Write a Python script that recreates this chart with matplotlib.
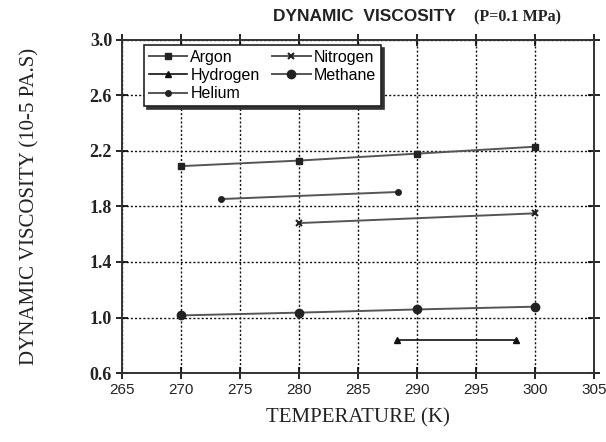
import matplotlib
matplotlib.use("Agg")
import matplotlib.pyplot as plt

# Dynamic viscosity of gases at P = 0.1 MPa (units of 1e-5 Pa.s)
argon_t = [270, 280, 290, 300]
argon_mu = [2.09, 2.13, 2.18, 2.23]

nitrogen_t = [280, 300]
nitrogen_mu = [1.68, 1.75]

hydrogen_t = [288.3, 298.4]
hydrogen_mu = [0.835, 0.835]

methane_t = [270, 280, 290, 300]
methane_mu = [1.015, 1.035, 1.058, 1.078]

helium_t = [273.4, 288.4]
helium_mu = [1.853, 1.904]

x_ticks = [265, 270, 275, 280, 285, 290, 295, 300, 305]
y_ticks = [0.6, 1.0, 1.4, 1.8, 2.2, 2.6, 3.0]

sans = "Liberation Sans"
serif = "Liberation Serif"

fig = plt.figure(figsize=(6.06, 4.42), dpi=100)
ax = fig.add_axes([0.201, 0.156, 0.779, 0.754])

line_kw = dict(color="#555555", lw=1.4, markeredgecolor="#222222",
               markerfacecolor="#222222")
ax.plot(argon_t, argon_mu, marker="s", ms=5, label="Argon", **line_kw)
ax.plot(hydrogen_t, hydrogen_mu, marker="^", ms=5, label="Hydrogen",
        color="#111111", lw=1.2, markeredgecolor="#111111",
        markerfacecolor="#111111")
ax.plot(helium_t, helium_mu, marker="o", ms=4, label="Helium", **line_kw)
ax.plot(nitrogen_t, nitrogen_mu, marker="x", ms=5, mew=1.5,
        label="Nitrogen", **line_kw)
ax.plot(methane_t, methane_mu, marker="o", ms=6, label="Methane", **line_kw)

ax.set_xlim(265, 305)
ax.set_ylim(0.6, 3.0)
ax.set_xticks(x_ticks)
ax.set_yticks(y_ticks)
ax.set_xticklabels([str(v) for v in x_ticks], fontfamily=sans,
                   fontsize=11, color="#222222")
ax.set_yticklabels([f"{v:.1f}" for v in y_ticks], fontfamily=serif,
                   fontsize=13, fontweight="bold", color="#222222")

ax.grid(True, color="#111111", linestyle=(0, (1.5, 1.5)), lw=1.0)
ax.tick_params(direction="inout", length=8, width=1.2, top=True,
               right=True, pad=3)
for s in ax.spines.values():
    s.set_linewidth(1.4)
    s.set_color("#333333")

ax.set_xlabel("TEMPERATURE (K)", fontfamily=serif, fontsize=15,
              color="#222222", labelpad=8)
ax.set_ylabel("DYNAMIC VISCOSITY (10-5 PA.S)", fontfamily=serif,
              fontsize=15, color="#222222", labelpad=36)

fig.text(0.45, 0.962, "DYNAMIC  VISCOSITY", fontfamily=sans,
         fontweight="bold", fontsize=12.5, color="#222222", va="center")
fig.text(0.783, 0.960, "(P=0.1 MPa)", fontfamily=serif,
         fontweight="bold", fontsize=11.5, color="#222222", va="center")

leg = ax.legend(ncol=2, loc="upper left", bbox_to_anchor=(0.03, 1.008),
                frameon=True, fancybox=False,
                shadow={"color": "#333333", "alpha": 1.0},
                prop={"family": sans, "size": 11.5},
                handlelength=2.4, handletextpad=0.2, columnspacing=0.8,
                labelspacing=0.2, borderpad=0.3)
leg.get_frame().set_edgecolor("#222222")
leg.get_frame().set_linewidth(1.2)

fig.savefig("out.png", dpi=100)
